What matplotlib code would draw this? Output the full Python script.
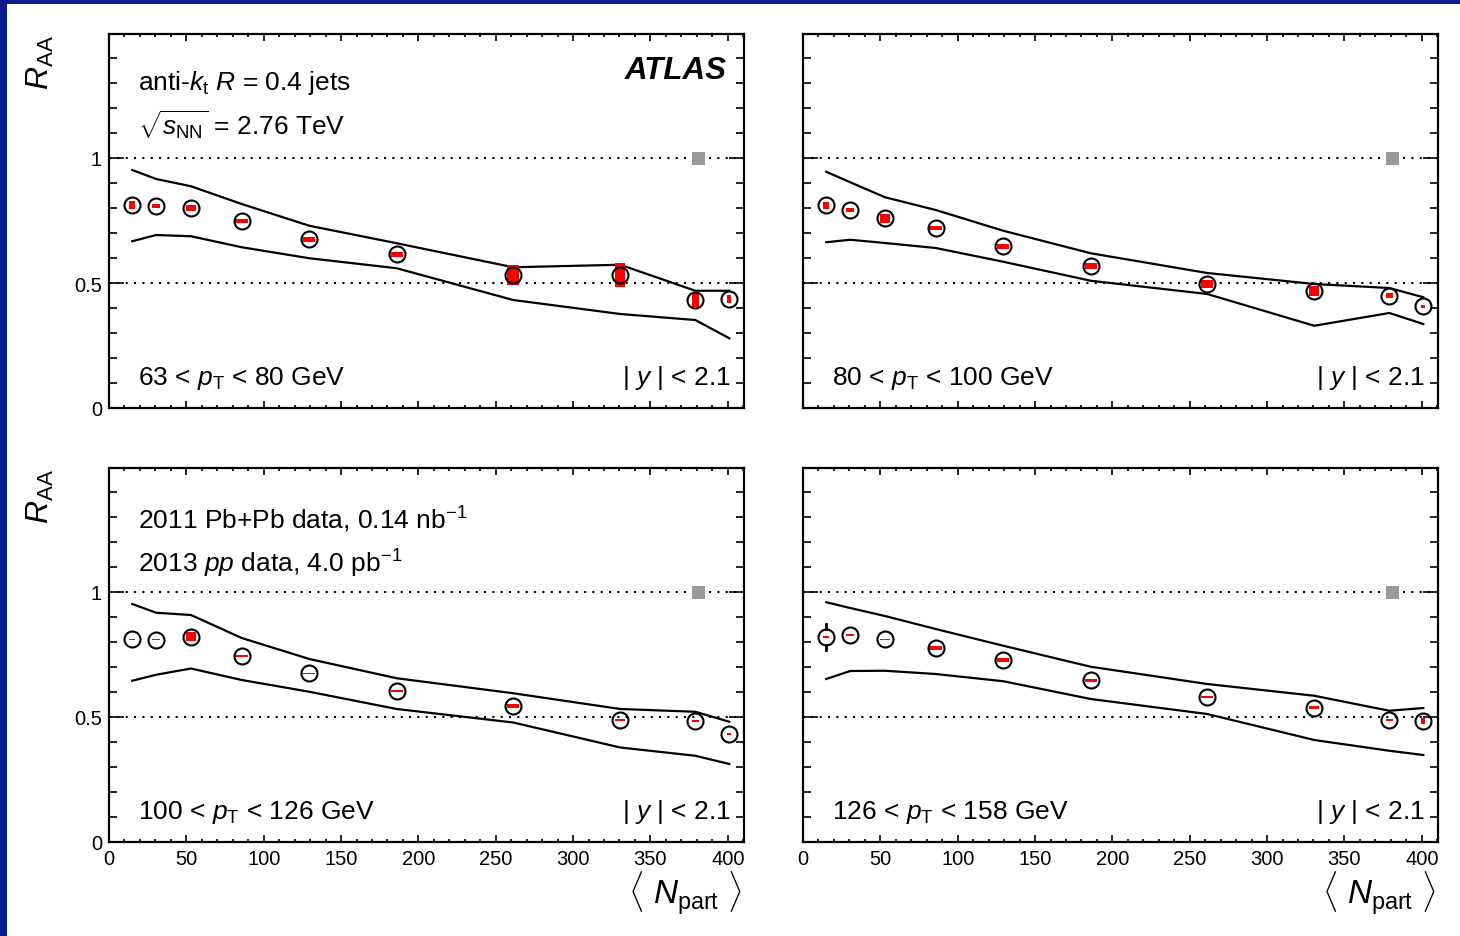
import numpy as np
import matplotlib.pyplot as plt
from matplotlib.patches import Rectangle
from matplotlib.ticker import MultipleLocator

plt.rcParams['font.family'] = ['Liberation Sans', 'DejaVu Sans']
plt.rcParams['mathtext.fontset'] = 'custom'
plt.rcParams['mathtext.rm'] = 'Liberation Sans'
plt.rcParams['mathtext.it'] = 'Liberation Sans:italic'
plt.rcParams['mathtext.bf'] = 'Liberation Sans:bold'

# <N_part> of the centrality bins
npart = [15.0, 30.5, 53.0, 85.8, 129.5, 186.0, 261.3, 330.5, 379.0, 401.0]
# full width of the systematic boxes (in N_part units)
box_width = [3.9, 5.2, 6.5, 8.4, 7.8, 7.8, 7.8, 6.5, 4.5, 2.6]

raa_63_80 = [0.813, 0.809, 0.799, 0.749, 0.676, 0.616, 0.532, 0.533, 0.433, 0.436]
sys_63_80 = [0.015, 0.007, 0.012, 0.008, 0.010, 0.010, 0.040, 0.047, 0.030, 0.016]
stat_63_80 = [0.01, 0.01, 0.01, 0.01, 0.01, 0.01, 0.02, 0.02, 0.02, 0.02]
upper_63_80 = [0.952, 0.916, 0.887, 0.816, 0.729, 0.659, 0.563, 0.573, 0.469, 0.469]
lower_63_80 = [0.667, 0.692, 0.687, 0.643, 0.599, 0.559, 0.432, 0.376, 0.352, 0.279]

raa_80_100 = [0.812, 0.793, 0.759, 0.719, 0.647, 0.569, 0.496, 0.469, 0.449, 0.407]
sys_80_100 = [0.014, 0.007, 0.018, 0.008, 0.010, 0.011, 0.016, 0.020, 0.010, 0.006]
stat_80_100 = [0.01, 0.01, 0.01, 0.01, 0.01, 0.01, 0.01, 0.01, 0.01, 0.01]
upper_80_100 = [0.945, 0.903, 0.843, 0.792, 0.709, 0.619, 0.540, 0.496, 0.480, 0.443]
lower_80_100 = [0.663, 0.673, 0.660, 0.640, 0.585, 0.509, 0.456, 0.329, 0.380, 0.336]

raa_100_126 = [0.811, 0.810, 0.821, 0.745, 0.676, 0.604, 0.543, 0.489, 0.483, 0.432]
sys_100_126 = [0.003, 0.002, 0.018, 0.004, 0.002, 0.004, 0.008, 0.004, 0.004, 0.005]
stat_100_126 = [0.02, 0.01, 0.01, 0.01, 0.01, 0.01, 0.01, 0.01, 0.01, 0.01]
upper_100_126 = [0.952, 0.917, 0.908, 0.816, 0.732, 0.655, 0.595, 0.532, 0.521, 0.481]
lower_100_126 = [0.645, 0.669, 0.694, 0.648, 0.601, 0.532, 0.478, 0.378, 0.345, 0.312]

raa_126_158 = [0.819, 0.828, 0.811, 0.777, 0.728, 0.648, 0.581, 0.537, 0.489, 0.485]
sys_126_158 = [0.004, 0.004, 0.002, 0.008, 0.008, 0.006, 0.004, 0.006, 0.004, 0.013]
stat_126_158 = [0.052, 0.02, 0.01, 0.01, 0.01, 0.01, 0.01, 0.01, 0.01, 0.01]
upper_126_158 = [0.959, 0.936, 0.904, 0.852, 0.785, 0.701, 0.632, 0.585, 0.525, 0.536]
lower_126_158 = [0.652, 0.684, 0.685, 0.672, 0.643, 0.572, 0.512, 0.408, 0.365, 0.348]

pt_labels = [r'63 < $p_{\rm T}$ < 80 GeV', r'80 < $p_{\rm T}$ < 100 GeV',
             r'100 < $p_{\rm T}$ < 126 GeV', r'126 < $p_{\rm T}$ < 158 GeV']

# normalisation uncertainty box
norm_x = 381.0
norm_unc = 0.026

W, H = 1460, 937
fig = plt.figure(figsize=(W / 100, H / 100), dpi=100)
fig.patch.set_facecolor('#0b1a8e')
fig.add_artist(Rectangle((7 / W, 0), 1, (H - 5) / H, transform=fig.transFigure,
                         facecolor='white', edgecolor='none', zorder=-5))

panels = [
    ((109, 35), raa_63_80, sys_63_80, stat_63_80, upper_63_80, lower_63_80),
    ((803, 35), raa_80_100, sys_80_100, stat_80_100, upper_80_100, lower_80_100),
    ((109, 469), raa_100_126, sys_100_126, stat_100_126, upper_100_126, lower_100_126),
    ((803, 469), raa_126_158, sys_126_158, stat_126_158, upper_126_158, lower_126_158),
]
ax_w, ax_h = 635, 374
marker_r = 0.032  # marker radius in R_AA units

for i, ((x0, y0), raa, sys, stat, upper, lower) in enumerate(panels):
    ax = fig.add_axes([x0 / W, (H - y0 - ax_h) / H, ax_w / W, ax_h / H])
    ax.set_xlim(0, 410.5)
    ax.set_ylim(0, 1.496)

    ax.axhline(1.0, color='black', lw=1.5, ls=(0, (1, 3)), zorder=1)
    ax.axhline(0.5, color='black', lw=1.5, ls=(0, (1, 3)), zorder=1)

    ax.plot(npart, upper, color='black', lw=1.6, zorder=2)
    ax.plot(npart, lower, color='black', lw=1.6, zorder=2)

    for x, y, s, w in zip(npart, raa, sys, box_width):
        ax.add_patch(Rectangle((x - w / 2, y - s), w, 2 * s, facecolor='red',
                               edgecolor='none', zorder=3))
    for x, y, e in zip(npart, raa, stat):
        if e > marker_r:
            ax.plot([x, x], [y + marker_r, y + e], color='black', lw=2, zorder=4)
            ax.plot([x, x], [y - marker_r, y - e], color='black', lw=2, zorder=4)
    ax.plot(npart, raa, 'o', ms=11.5, mfc='none', mec='black', mew=1.5, zorder=4)

    ax.add_patch(Rectangle((norm_x - 4.2, 1 - norm_unc), 8.4, 2 * norm_unc,
                           facecolor='#999999', edgecolor='none', zorder=3))

    ax.xaxis.set_major_locator(MultipleLocator(50))
    ax.xaxis.set_minor_locator(MultipleLocator(10))
    ax.yaxis.set_major_locator(MultipleLocator(0.5))
    ax.yaxis.set_minor_locator(MultipleLocator(0.1))
    ax.yaxis.set_major_formatter(plt.FuncFormatter(lambda v, p: f'{v:g}'))
    ax.tick_params(which='both', direction='in', top=True, right=True, width=1.2,
                   labelsize=14.5, colors='black')
    ax.tick_params(axis='y', which='major', length=11, pad=5)
    ax.tick_params(axis='y', which='minor', length=5.5)
    ax.tick_params(axis='x', which='major', length=5, pad=5)
    ax.tick_params(axis='x', which='minor', length=2.5)
    for sp in ax.spines.values():
        sp.set_linewidth(1.6)
    if i < 2:
        ax.tick_params(labelbottom=False)
    if i % 2 == 1:
        ax.tick_params(labelleft=False)

    ax.text(0.0457, 0.064, pt_labels[i], transform=ax.transAxes, fontsize=19,
            ha='left', va='baseline')
    ax.text(0.98, 0.064, r'| $y$ | < 2.1', transform=ax.transAxes, fontsize=19,
            ha='right', va='baseline')

    if i == 0:
        ax.text(0.0457, 0.853, r'anti-$k_{\rm t}$ $R$ = 0.4 jets', transform=ax.transAxes,
                fontsize=19, ha='left', va='baseline')
        ax.text(0.0457, 0.730, r'$\sqrt{s_{\rm NN}}$ = 2.76 TeV', transform=ax.transAxes,
                fontsize=19, ha='left', va='baseline')
        ax.text(0.973, 0.904, 'ATLAS', transform=ax.transAxes, fontsize=22.5,
                fontweight='bold', fontstyle='italic', ha='right', va='center')
    if i == 2:
        ax.text(0.0457, 0.840, r'2011 Pb+Pb data, 0.14 nb$^{-1}$', transform=ax.transAxes,
                fontsize=19, ha='left', va='baseline')
        ax.text(0.0457, 0.722, r'2013 $pp$ data, 4.0 pb$^{-1}$', transform=ax.transAxes,
                fontsize=19, ha='left', va='baseline')

    if i % 2 == 0:
        fig.text(40 / W, (H - y0) / H, r'$R_{\rm AA}$', rotation=90, fontsize=23,
                 ha='center', va='top')
    if i >= 2:
        fig.text((x0 + ax_w - 2) / W, (H - 893) / H, r'$\langle\ N_{\rm part}\ \rangle$',
                 fontsize=24, ha='right', va='center')

fig.savefig('out.png', dpi=100, facecolor=fig.get_facecolor())
